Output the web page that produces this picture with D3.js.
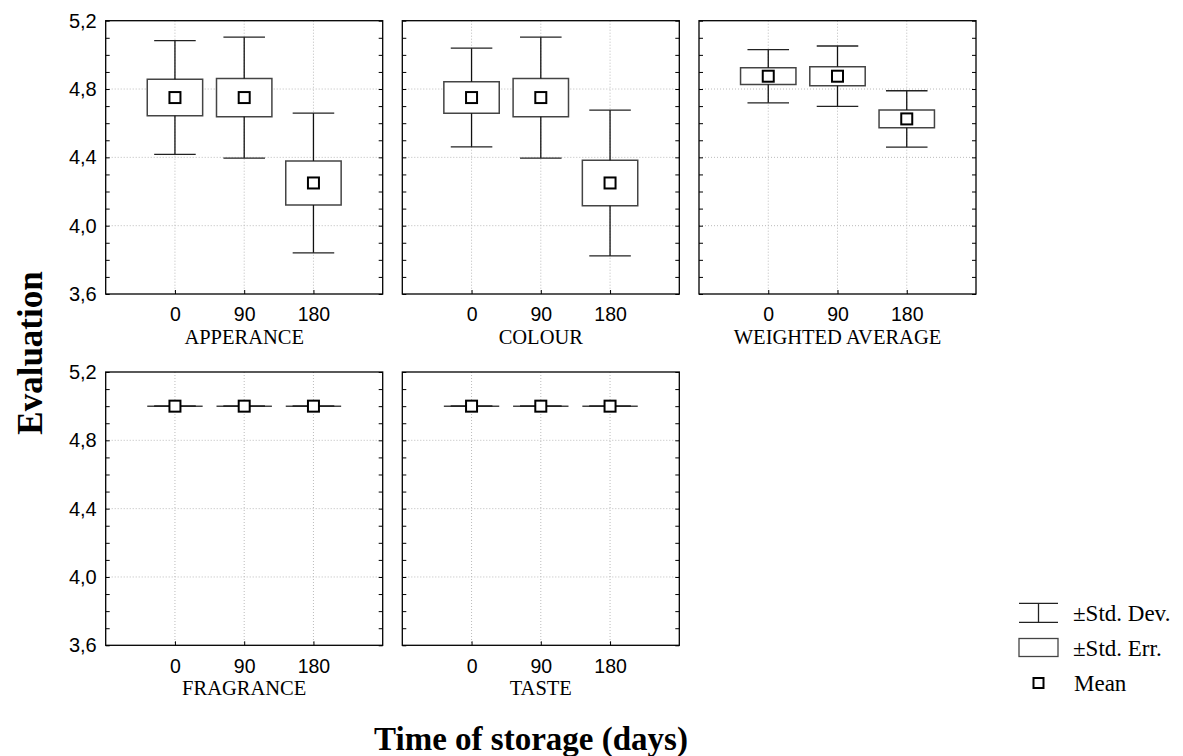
<!DOCTYPE html>
<html>
<head>
<meta charset="utf-8">
<script src="https://cdn.jsdelivr.net/npm/d3@7"></script>
<style>
  body { margin: 0; background: #fff; }
  svg { display: block; }
</style>
</head>
<body>
<svg id="chart"></svg>
<script>
// data
const panelNames = ["APPERANCE", "COLOUR", "WEIGHTED AVERAGE", "FRAGRANCE", "TASTE"];
const days = ["0", "90", "180"];
const meanValues = [
  [4.75, 4.75, 4.25],
  [4.75, 4.75, 4.25],
  [4.875, 4.875, 4.625],
  [5.0, 5.0, 5.0],
  [5.0, 5.0, 5.0]
];
const stdErr = [
  [0.107, 0.112, 0.129],
  [0.092, 0.112, 0.133],
  [0.049, 0.056, 0.052],
  [0, 0, 0],
  [0, 0, 0]
];
const stdDev = [
  [0.333, 0.354, 0.409],
  [0.289, 0.354, 0.427],
  [0.156, 0.177, 0.165],
  [0, 0, 0],
  [0, 0, 0]
];
const yTicks = [3.6, 4.0, 4.4, 4.8, 5.2];
const legendItems = ["±Std. Dev.", "±Std. Err.", "Mean"];

const width = 1183, height = 756;
const svg = d3.select("#chart").attr("width", width).attr("height", height);

const panelW = 277, panelH = 273.3;
const colX = [105.7, 402.3, 699];
const rowY = [20.7, 372];

const sansFont = "'Liberation Sans', Arial, sans-serif";
const serifFont = "'Liberation Serif', 'Times New Roman', serif";

const fmt = d3.formatLocale({ decimal: ",", thousands: ".", grouping: [3], currency: ["", ""] }).format(".1f");

const y = d3.scaleLinear().domain([3.6, 5.2]).range([panelH, 0]);
const x = d3.scalePoint().domain(days).range([0, panelW]).padding(1);
const step = x.step();
const minorTicks = d3.range(36, 53).map(d => d / 10);

panelNames.forEach(function(name, p) {
  const col = p % 3, row = Math.floor(p / 3);
  const g = svg.append("g").attr("transform", "translate(" + colX[col] + "," + rowY[row] + ")");

  // dotted grid
  g.append("g").selectAll("line")
    .data(yTicks.slice(1, -1))
    .enter().append("line")
      .attr("x1", 0).attr("x2", panelW)
      .attr("y1", d => y(d)).attr("y2", d => y(d))
      .attr("stroke", "#bbb").attr("stroke-dasharray", "1,2");
  g.append("g").selectAll("line")
    .data(days)
    .enter().append("line")
      .attr("x1", d => x(d)).attr("x2", d => x(d))
      .attr("y1", 0).attr("y2", panelH)
      .attr("stroke", "#bbb").attr("stroke-dasharray", "1,2");

  // inward ticks on both sides
  const leftAx = g.append("g").call(d3.axisLeft(y).tickValues(minorTicks).tickSize(-4).tickFormat(""));
  const rightAx = g.append("g").attr("transform", "translate(" + panelW + ",0)")
    .call(d3.axisRight(y).tickValues(minorTicks).tickSize(-4).tickFormat(""));
  [leftAx, rightAx].forEach(a => { a.select(".domain").remove(); a.selectAll("line").attr("stroke", "#000"); });

  if (col === 0) {
    const lab = g.append("g").call(d3.axisLeft(y).tickValues(yTicks).tickSize(0).tickPadding(9).tickFormat(fmt));
    lab.select(".domain").remove();
    lab.selectAll("text").attr("font-family", sansFont).attr("font-size", "20px").attr("fill", "#000");
  }

  const xAx = g.append("g").attr("transform", "translate(0," + panelH + ")")
    .call(d3.axisBottom(x).tickSize(-4).tickPadding(13.5));
  xAx.select(".domain").remove();
  xAx.selectAll("line").attr("stroke", "#000");
  xAx.selectAll("text").attr("font-family", sansFont).attr("font-size", "19.5px").attr("fill", "#000");

  g.append("text")
    .attr("x", panelW / 2)
    .attr("y", panelH + 50)
    .attr("text-anchor", "middle")
    .attr("font-family", serifFont)
    .attr("font-size", "20.5px")
    .text(name);

  const items = days.map((d, i) => ({ day: d, mean: meanValues[p][i], se: stdErr[p][i], sd: stdDev[p][i] }));
  const boxW = step * 0.8, capW = step * 0.6;

  const box = g.append("g").selectAll("g").data(items).enter().append("g");

  box.append("path")
    .attr("d", d => "M" + (x(d.day) - boxW / 2) + "," + y(d.mean + d.se) +
      "H" + (x(d.day) + boxW / 2) + "V" + y(d.mean - d.se) +
      "H" + (x(d.day) - boxW / 2) + "Z")
    .attr("fill", "#fff").attr("stroke", "#444").attr("stroke-width", 1.5);

  box.append("line")
    .attr("x1", d => x(d.day)).attr("x2", d => x(d.day))
    .attr("y1", d => y(d.mean + d.sd)).attr("y2", d => y(d.mean + d.se))
    .attr("stroke", "#111").attr("stroke-width", 1.3);
  box.append("line")
    .attr("x1", d => x(d.day)).attr("x2", d => x(d.day))
    .attr("y1", d => y(d.mean - d.se)).attr("y2", d => y(d.mean - d.sd))
    .attr("stroke", "#111").attr("stroke-width", 1.3);
  [1, -1].forEach(function(s) {
    box.append("line")
      .attr("x1", d => x(d.day) - capW / 2).attr("x2", d => x(d.day) + capW / 2)
      .attr("y1", d => y(d.mean + s * d.sd)).attr("y2", d => y(d.mean + s * d.sd))
      .attr("stroke", "#222").attr("stroke-width", 1.3);
  });

  box.append("rect")
    .attr("x", d => x(d.day) - 5.5).attr("y", d => y(d.mean) - 5.5)
    .attr("width", 11).attr("height", 11)
    .attr("fill", "#fff").attr("stroke", "#000").attr("stroke-width", 2);

  // frame
  g.append("rect")
    .attr("width", panelW).attr("height", panelH)
    .attr("fill", "none").attr("stroke", "#000").attr("stroke-width", 1.3);
});

// axis titles
svg.append("text")
  .attr("transform", "translate(42,353)rotate(-90)")
  .attr("text-anchor", "middle")
  .attr("font-family", serifFont)
  .attr("font-weight", "bold")
  .attr("font-size", "35px")
  .text("Evaluation");

svg.append("text")
  .attr("x", 531)
  .attr("y", 750)
  .attr("text-anchor", "middle")
  .attr("font-family", serifFont)
  .attr("font-weight", "bold")
  .attr("font-size", "33px")
  .text("Time of storage (days)");

// legend
const legend = svg.append("g").attr("transform", "translate(1019,0)");
const legendY = [613, 647.5, 683];

legend.append("line").attr("x1", 0).attr("x2", 39).attr("y1", 603.3).attr("y2", 603.3).attr("stroke", "#222").attr("stroke-width", 1.3);
legend.append("line").attr("x1", 0).attr("x2", 39).attr("y1", 622.3).attr("y2", 622.3).attr("stroke", "#222").attr("stroke-width", 1.3);
legend.append("line").attr("x1", 19.5).attr("x2", 19.5).attr("y1", 603.3).attr("y2", 622.3).attr("stroke", "#222").attr("stroke-width", 1.3);

legend.append("rect").attr("x", 0).attr("y", 638.5).attr("width", 39).attr("height", 18)
  .attr("fill", "#fff").attr("stroke", "#444").attr("stroke-width", 1.3);

legend.append("rect").attr("x", 14.5).attr("y", 678).attr("width", 10).attr("height", 10)
  .attr("fill", "#fff").attr("stroke", "#000").attr("stroke-width", 2);

legend.selectAll("text.leg")
  .data(legendItems)
  .enter().append("text")
    .attr("class", "leg")
    .attr("x", (d, i) => i === 2 ? 55 : 54)
    .attr("y", (d, i) => legendY[i])
    .attr("dy", "0.35em")
    .attr("font-family", serifFont)
    .attr("font-size", "23px")
    .text(d => d);
</script>
</body>
</html>
